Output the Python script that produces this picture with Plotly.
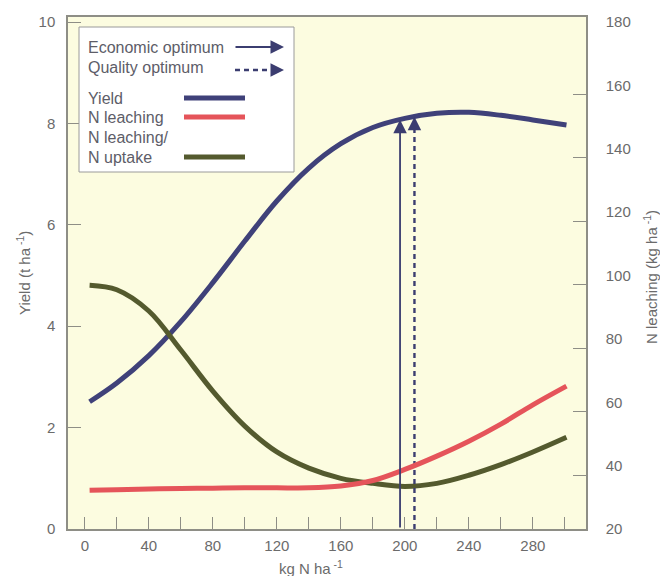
import numpy as np
import plotly.graph_objects as go

# ---------------- data ----------------
n_rate = [3, 20, 40, 60, 80, 100, 120, 140, 160, 180, 200, 220, 240, 260, 280, 301]
yield_t = [2.51, 2.88, 3.42, 4.09, 4.86, 5.68, 6.47, 7.12, 7.60, 7.92, 8.10, 8.20, 8.22, 8.16, 8.07, 7.97]
leach_uptake = [4.81, 4.72, 4.30, 3.53, 2.72, 2.03, 1.52, 1.20, 1.00, 0.90, 0.84, 0.90, 1.06, 1.27, 1.52, 1.81]
n_leaching = [32.2, 32.4, 32.6, 32.8, 32.9, 33.0, 33.0, 33.0, 33.6, 35.3, 38.8, 43.0, 47.7, 53.1, 59.2, 65.1]
economic_opt = 197
quality_opt = 206

x_ticks = list(range(0, 301, 20))
x_labels = [str(v) if v % 40 == 0 else "" for v in x_ticks]
y_ticks = [0, 2, 4, 6, 8, 10]
y2_ticks = [20, 40, 60, 80, 100, 120, 140, 160, 180]
y3_ticks = [40, 60, 80, 100, 120, 140, 160]

# ---------------- style ----------------
W, H = 660, 576
L, R, T, B = 68, 74, 17, 47
FONT = "Liberation Sans, Arial, Helvetica, sans-serif"
TXT = "#6b6b6b"
AX = "#8e8e86"
NAVY = "#3f4179"
RED = "#e5545a"
OLIVE = "#545a2e"
ARROW = "#3b3d70"
BG = "#fcfce0"

pw, ph = W - L - R, H - T - B


def dx(px):
    return (px - L) / pw


def dy(py):
    return (H - B - py) / ph


fig = go.Figure()

line_shape = dict(width=5, shape="spline", smoothing=1.0)
fig.add_trace(go.Scatter(x=n_rate, y=yield_t, mode="lines", line=dict(color=NAVY, **line_shape),
                         hoverinfo="skip", showlegend=False))
fig.add_trace(go.Scatter(x=n_rate, y=leach_uptake, mode="lines", line=dict(color=OLIVE, **line_shape),
                         hoverinfo="skip", showlegend=False))
fig.add_trace(go.Scatter(x=n_rate, y=n_leaching, yaxis="y2", mode="lines", line=dict(color=RED, **line_shape),
                         hoverinfo="skip", showlegend=False))
# placeholder trace so the tick-only right axis is drawn
fig.add_trace(go.Scatter(x=[None], y=[None], yaxis="y3", showlegend=False, hoverinfo="skip"))

y_econ = float(np.interp(economic_opt, n_rate, yield_t))
y_qual = float(np.interp(quality_opt, n_rate, yield_t))

# economic optimum arrow (solid)
fig.add_annotation(x=economic_opt, y=y_econ, xref="x", yref="y", ax=economic_opt, ay=0, axref="x", ayref="y",
                   text="", showarrow=True, arrowhead=2, arrowsize=1.5, arrowwidth=1.8, arrowcolor=ARROW, standoff=0)
# quality optimum arrow (dashed)
fig.add_trace(go.Scatter(x=[quality_opt, quality_opt], y=[0, y_qual - 0.25], mode="lines",
                         line=dict(color=ARROW, width=2.4, dash="5px,4px"), hoverinfo="skip", showlegend=False))
fig.add_annotation(x=quality_opt, y=y_qual, xref="x", yref="y", ax=0, ay=12,
                   text="", showarrow=True, arrowhead=2, arrowsize=1.5, arrowwidth=1.8, arrowcolor=ARROW, standoff=0)

# ---------------- legend box ----------------
fig.add_shape(type="rect", xref="paper", yref="paper", x0=dx(79), x1=dx(294), y0=dy(172), y1=dy(27),
              fillcolor="white", line=dict(color="#9a9a9a", width=1), layer="above")

legend_items = [("Economic optimum", 47), ("Quality optimum", 67), ("Yield", 98),
                ("N leaching", 117), ("N leaching/", 137), ("N uptake", 157)]
for txt, py in legend_items:
    fig.add_annotation(x=dx(86), y=dy(py), xref="paper", yref="paper", text=txt, showarrow=False,
                       xanchor="left", yanchor="middle", font=dict(family=FONT, size=16, color="#5d5d68"))

fig.add_annotation(x=dx(284), y=dy(47), xref="paper", yref="paper", ax=-50, ay=0, text="", showarrow=True,
                   arrowhead=2, arrowsize=1.5, arrowwidth=1.8, arrowcolor=ARROW, standoff=0)
fig.add_shape(type="line", xref="paper", yref="paper", x0=dx(235), x1=dx(274), y0=dy(70), y1=dy(70),
              line=dict(color=ARROW, width=2.4, dash="5px,4px"), layer="above")
fig.add_annotation(x=dx(284), y=dy(70), xref="paper", yref="paper", ax=-10, ay=0, text="", showarrow=True,
                   arrowhead=2, arrowsize=1.5, arrowwidth=1.8, arrowcolor=ARROW, standoff=0)

for col, py in [(NAVY, 98), (RED, 117), (OLIVE, 157)]:
    fig.add_shape(type="line", xref="paper", yref="paper", x0=dx(184), x1=dx(245), y0=dy(py), y1=dy(py),
                  line=dict(color=col, width=5), layer="above")

# ---------------- axis titles ----------------
title_font = dict(family=FONT, size=15, color=TXT)
fig.add_annotation(x=dx(23), y=dy(273), xref="paper", yref="paper", text="Yield (t ha<sup> -1</sup>)",
                   textangle=-90, showarrow=False, xanchor="center", yanchor="middle", font=title_font)
fig.add_annotation(x=dx(650), y=dy(277), xref="paper", yref="paper", text="N leaching (kg ha<sup> -1</sup>)",
                   textangle=-90, showarrow=False, xanchor="center", yanchor="middle", font=title_font)
fig.add_annotation(x=dx(311), y=dy(567), xref="paper", yref="paper", text="kg N ha<sup> -1</sup>",
                   showarrow=False, xanchor="center", yanchor="middle", font=title_font)

axis_common = dict(showgrid=False, zeroline=False, tickfont=dict(family=FONT, size=15, color=TXT))

fig.update_layout(
    width=W, height=H, margin=dict(l=L, r=R, t=T, b=B, autoexpand=False),
    paper_bgcolor="white", plot_bgcolor=BG, showlegend=False,
    xaxis=dict(range=[-10.5, 313.2], tickmode="array", tickvals=x_ticks, ticktext=x_labels,
               ticks="inside", ticklen=12, tickcolor=AX, tickwidth=1.2,
               showline=True, linecolor=AX, linewidth=1.5, mirror=True, ticklabelstandoff=2, **axis_common),
    yaxis=dict(range=[0, 10.1], tickmode="array", tickvals=y_ticks, ticks="inside", ticklen=13,
               tickcolor=AX, tickwidth=1.2, showline=True, linecolor=AX, linewidth=1.5, mirror=True,
               ticklabelstandoff=8, **axis_common),
    yaxis2=dict(range=[20, 181.6], overlaying="y", side="right", tickmode="array", tickvals=y2_ticks,
                ticks="", showline=True, linecolor=AX, linewidth=1.5, ticklabelstandoff=15, **axis_common),
    yaxis3=dict(range=[23.1, 184.4], overlaying="y", side="right", tickmode="array", tickvals=y3_ticks,
                ticks="inside", ticklen=13, tickcolor=AX, tickwidth=1.2, showticklabels=False,
                showline=False, showgrid=False, zeroline=False),
)

fig.write_html("out.html")
